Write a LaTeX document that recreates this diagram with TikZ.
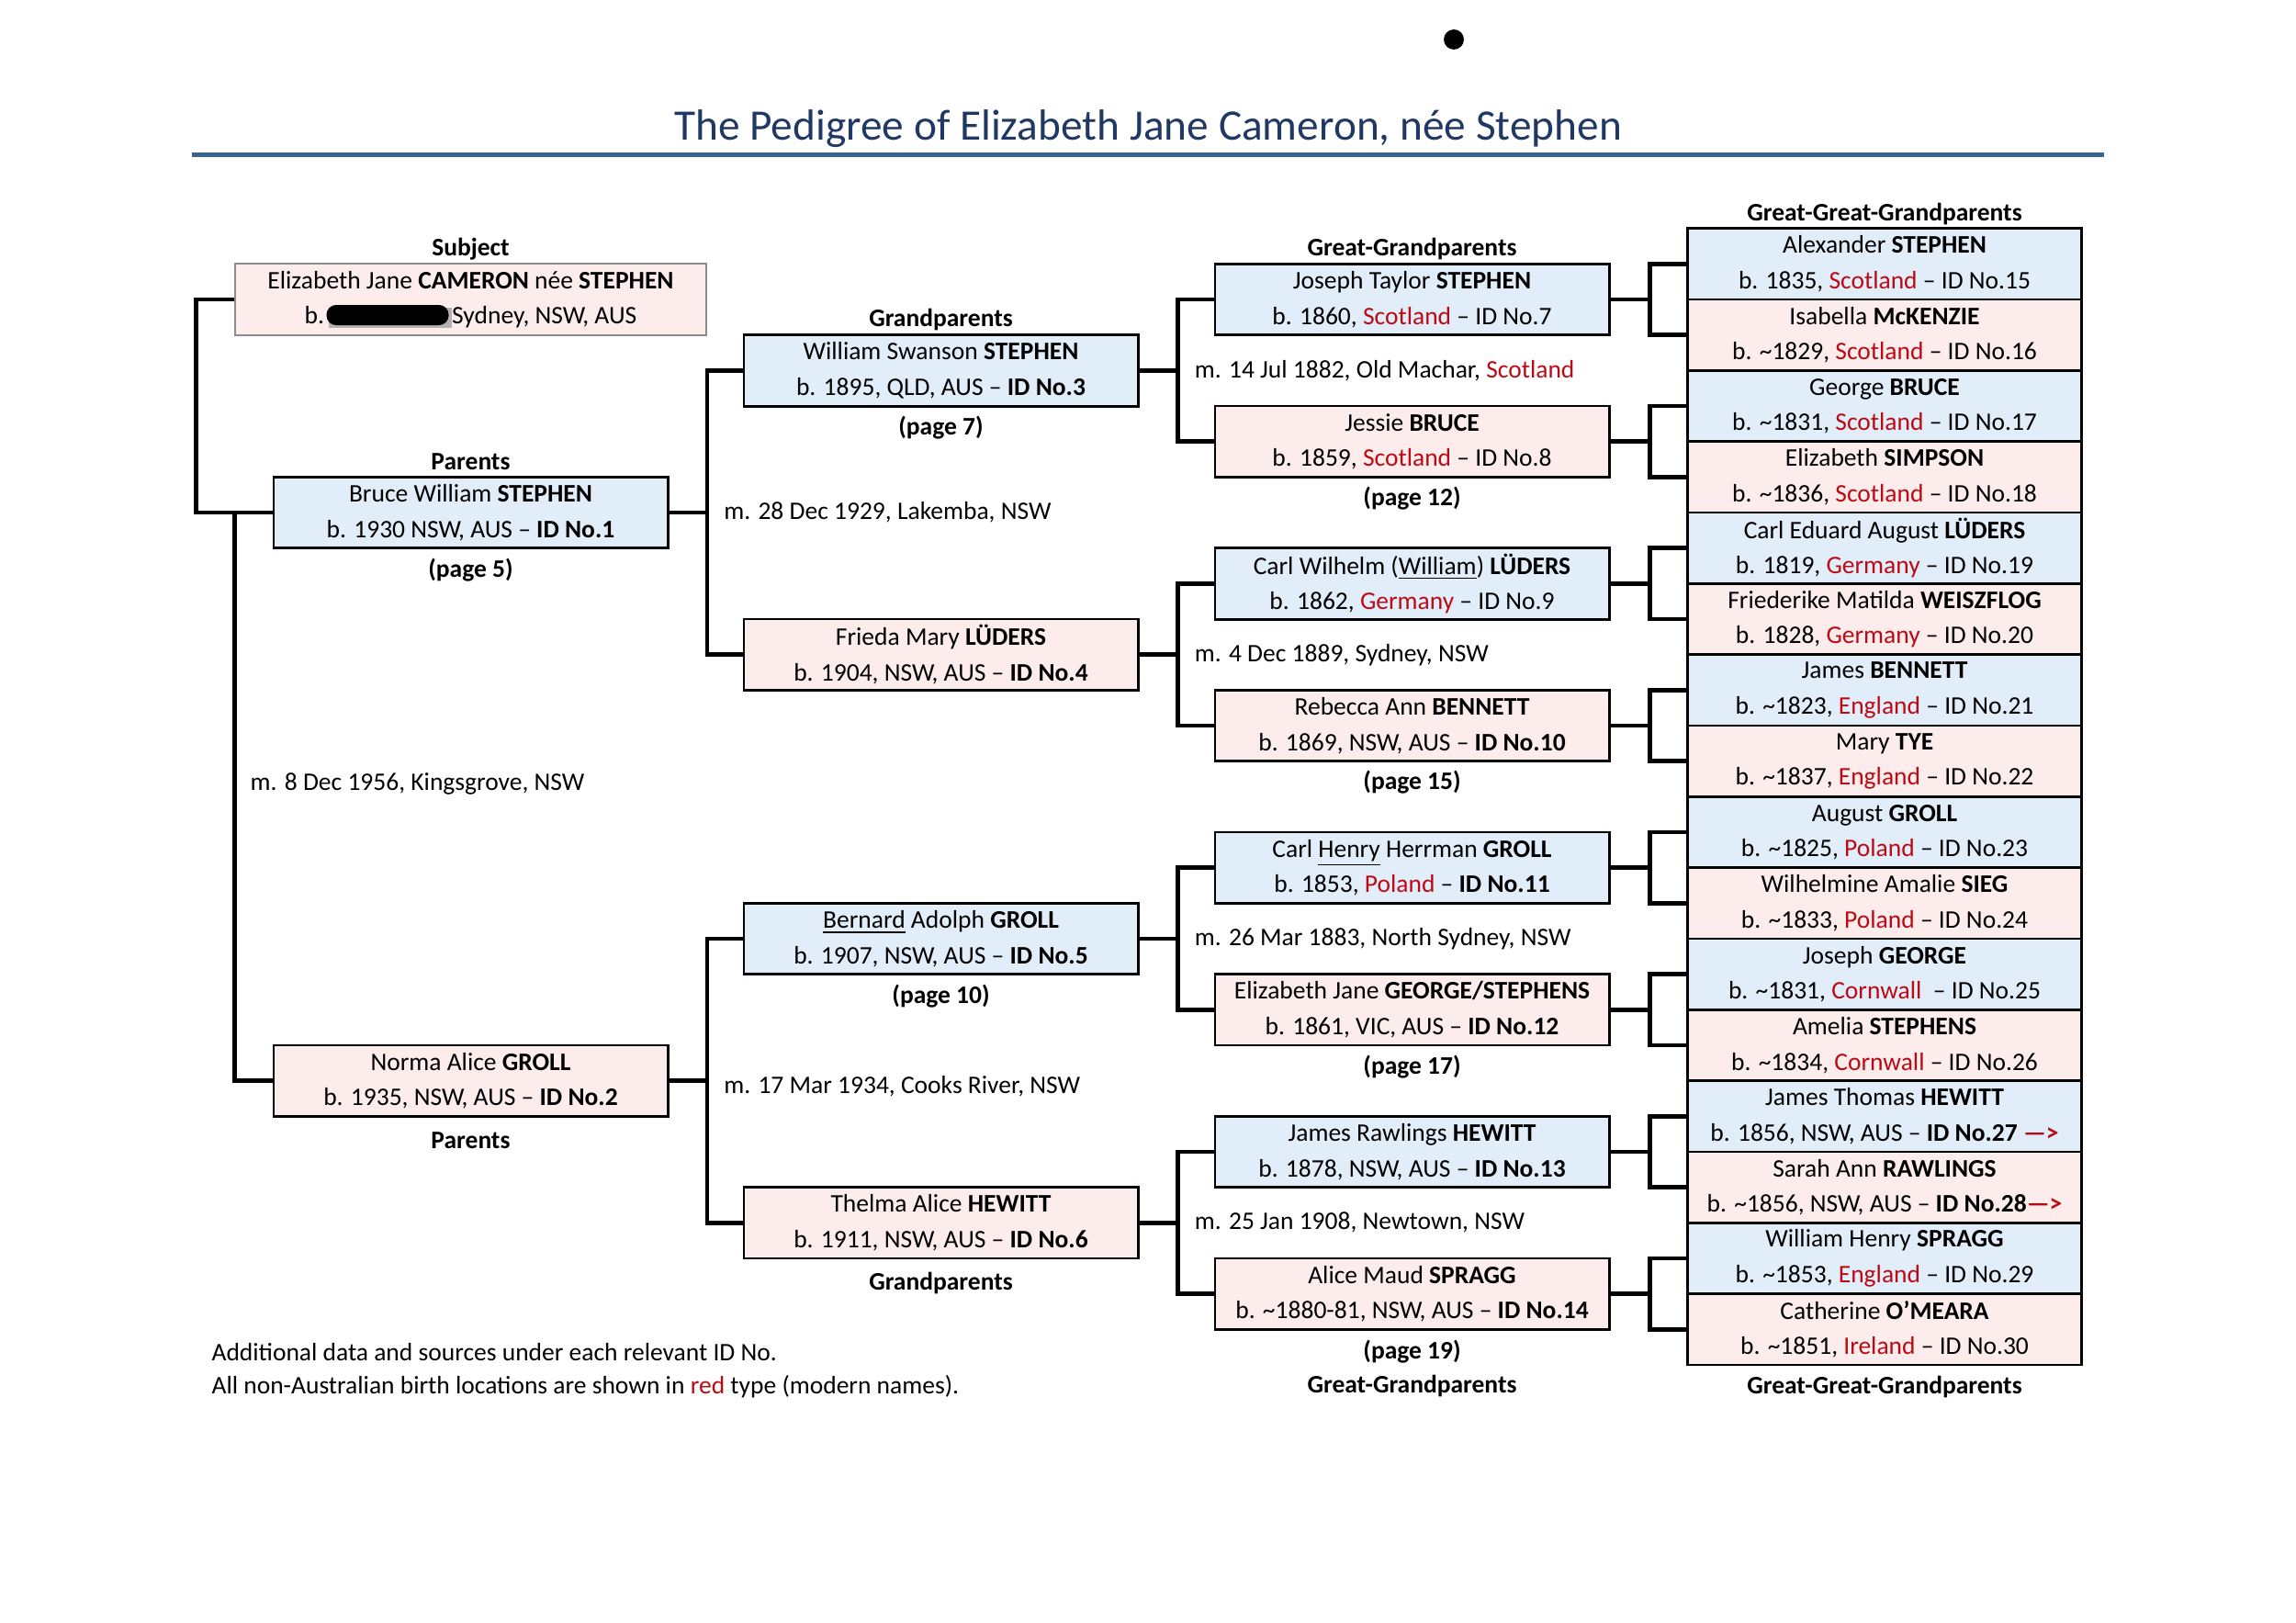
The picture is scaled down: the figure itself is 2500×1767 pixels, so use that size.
\documentclass[tikz,border=0pt]{standalone}
\usepackage{fontspec}
\setmainfont{Carlito}
\usetikzlibrary{positioning,calc}

\definecolor{maleFill}{HTML}{E1EDF9}
\definecolor{femaleFill}{HTML}{FCECEC}
\definecolor{placeRed}{HTML}{BC0A14}
\definecolor{titleNavy}{HTML}{1F3864}
\definecolor{ruleBlue}{HTML}{3A6391}
\definecolor{subjEdge}{HTML}{8C8C8C}

\newcommand{\abroad}[1]{\textcolor{placeRed}{#1}}
\newcommand{\onward}{\textcolor{placeRed}{\textbf{—>}}}

\tikzset{
  pedigree/.style={
    font=\fontsize{9.3}{13}\selectfont,
    line join=miter,
  },
  person/.style={
    draw=black, line width=1pt, align=center, inner sep=0pt,
    minimum width=50.97mm, minimum height=9.19mm,
  },
  maleBox/.style={person, fill=maleFill},
  femaleBox/.style={person, fill=femaleFill},
  subjBox/.style={person, fill=femaleFill, draw=subjEdge, line width=0.6pt,
    minimum width=60.94mm},
  link/.style={black, line width=1.6pt},
  genLabel/.style={font=\fontsize{9.3}{13}\selectfont\bfseries, inner sep=1pt,
    text height=6.6pt, text depth=2pt},
  marLabel/.style={inner sep=1pt, anchor=west},
  noteText/.style={inner sep=0pt, anchor=west},
  redact/.style={fill=black, rounded corners=1.25mm},
}

\begin{document}
\begin{tikzpicture}[pedigree, x=0.1188mm, y=-0.1188mm]

% page frame (A4 landscape, 1 unit = one pixel of the scan)
\useasboundingbox (0,0) rectangle (2500,1767);

% ============================================================
% Columns and rows: one row = one great-great-grandparent box.
% ============================================================
\def\cOne{512.5}
\def\cTwo{1024.5}
\def\cThree{1537.5}
\def\cFour{2052}
\def\yTop{248.7}
\def\rowH{77.33}

% stray dot and heading
\node[fill=black, circle, minimum size=2.6mm, inner sep=0pt] (dot) at (1583,43) {};
\node[font=\fontsize{16}{19}\selectfont, text=titleNavy, inner sep=0pt] (title)
  at (1250,140) {The Pedigree of Elizabeth Jane Cameron, née Stephen};
\draw[ruleBlue, line width=2pt] (209,168.5) -- (2291,168.5);

% ============================================================
% Subject and parents
% ============================================================
\node[subjBox] (subj) at (\cOne, \yTop+1*\rowH)
  {Elizabeth Jane \textbf{CAMERON} née \textbf{STEPHEN}\\b.\hspace{47pt}Sydney, NSW, AUS};
% redaction blot over the birth date
\fill[black!30] ($(subj.center)+(-155,9)$) rectangle ($(subj.center)+(-21,31)$);
\fill[redact] ($(subj.center)+(-157,6)$) rectangle ($(subj.center)+(-24,28)$);

\node[maleBox] (bruce) at (\cOne, \yTop+4*\rowH)
  {Bruce William \textbf{STEPHEN}\\b. 1930 NSW, AUS – \textbf{ID No.1}};
\node[femaleBox] (norma) at (\cOne, \yTop+12*\rowH)
  {Norma Alice \textbf{GROLL}\\b. 1935, NSW, AUS – \textbf{ID No.2}};

% ============================================================
% Grandparents
% ============================================================
\node[maleBox] (wil) at (\cTwo, \yTop+2*\rowH)
  {William Swanson \textbf{STEPHEN}\\b. 1895, QLD, AUS – \textbf{ID No.3}};
\node[femaleBox] (frieda) at (\cTwo, \yTop+6*\rowH)
  {Frieda Mary \textbf{LÜDERS}\\b. 1904, NSW, AUS – \textbf{ID No.4}};
\node[maleBox] (bern) at (\cTwo, \yTop+10*\rowH)
  {\underline{Bernard} Adolph \textbf{GROLL}\\b. 1907, NSW, AUS – \textbf{ID No.5}};
\node[femaleBox] (thelma) at (\cTwo, \yTop+14*\rowH)
  {Thelma Alice \textbf{HEWITT}\\b. 1911, NSW, AUS – \textbf{ID No.6}};

% ============================================================
% Great-grandparents
% ============================================================
\node[maleBox] (joseph) at (\cThree, \yTop+1*\rowH)
  {Joseph Taylor \textbf{STEPHEN}\\b. 1860, \abroad{Scotland} – ID No.7};
\node[femaleBox] (jessie) at (\cThree, \yTop+3*\rowH)
  {Jessie \textbf{BRUCE}\\b. 1859, \abroad{Scotland} – ID No.8};
\node[maleBox] (carlw) at (\cThree, \yTop+5*\rowH)
  {Carl Wilhelm (\underline{William}) \textbf{LÜDERS}\\b. 1862, \abroad{Germany} – ID No.9};
\node[femaleBox] (rebecca) at (\cThree, \yTop+7*\rowH)
  {Rebecca Ann \textbf{BENNETT}\\b. 1869, NSW, AUS – \textbf{ID No.10}};
\node[maleBox] (carlh) at (\cThree, \yTop+9*\rowH)
  {Carl \underline{Henry} Herrman \textbf{GROLL}\\b. 1853, \abroad{Poland} – \textbf{ID No.11}};
\node[femaleBox] (ejane) at (\cThree, \yTop+11*\rowH)
  {Elizabeth Jane \textbf{GEORGE/STEPHENS}\\b. 1861, VIC, AUS – \textbf{ID No.12}};
\node[maleBox] (jamesr) at (\cThree, \yTop+13*\rowH)
  {James Rawlings \textbf{HEWITT}\\b. 1878, NSW, AUS – \textbf{ID No.13}};
\node[femaleBox] (alice) at (\cThree, \yTop+15*\rowH)
  {Alice Maud \textbf{SPRAGG}\\b. \textasciitilde1880-81, NSW, AUS – \textbf{ID No.14}};

% ============================================================
% Great-great-grandparents, stacked edge to edge
% ============================================================
\node[maleBox] (alex) at (\cFour, \yTop+0.5*\rowH)
  {Alexander \textbf{STEPHEN}\\b. 1835, \abroad{Scotland} – ID No.15};
\node[femaleBox] (isab) at (\cFour, \yTop+1.5*\rowH)
  {Isabella \textbf{McKENZIE}\\b. \textasciitilde1829, \abroad{Scotland} – ID No.16};
\node[maleBox] (george) at (\cFour, \yTop+2.5*\rowH)
  {George \textbf{BRUCE}\\b. \textasciitilde1831, \abroad{Scotland} – ID No.17};
\node[femaleBox] (elizs) at (\cFour, \yTop+3.5*\rowH)
  {Elizabeth \textbf{SIMPSON}\\b. \textasciitilde1836, \abroad{Scotland} – ID No.18};
\node[maleBox] (carle) at (\cFour, \yTop+4.5*\rowH)
  {Carl Eduard August \textbf{LÜDERS}\\b. 1819, \abroad{Germany} – ID No.19};
\node[femaleBox] (fried) at (\cFour, \yTop+5.5*\rowH)
  {Friederike Matilda \textbf{WEISZFLOG}\\b. 1828, \abroad{Germany} – ID No.20};
\node[maleBox] (jamesb) at (\cFour, \yTop+6.5*\rowH)
  {James \textbf{BENNETT}\\b. \textasciitilde1823, \abroad{England} – ID No.21};
\node[femaleBox] (mary) at (\cFour, \yTop+7.5*\rowH)
  {Mary \textbf{TYE}\\b. \textasciitilde1837, \abroad{England} – ID No.22};
\node[maleBox] (august) at (\cFour, \yTop+8.5*\rowH)
  {August \textbf{GROLL}\\b. \textasciitilde1825, \abroad{Poland} – ID No.23};
\node[femaleBox] (wilh) at (\cFour, \yTop+9.5*\rowH)
  {Wilhelmine Amalie \textbf{SIEG}\\b. \textasciitilde1833, \abroad{Poland} – ID No.24};
\node[maleBox] (josg) at (\cFour, \yTop+10.5*\rowH)
  {Joseph \textbf{GEORGE}\\b. \textasciitilde1831, \abroad{Cornwall}\ \ – ID No.25};
\node[femaleBox] (amelia) at (\cFour, \yTop+11.5*\rowH)
  {Amelia \textbf{STEPHENS}\\b. \textasciitilde1834, \abroad{Cornwall} – ID No.26};
\node[maleBox] (jamest) at (\cFour, \yTop+12.5*\rowH)
  {James Thomas \textbf{HEWITT}\\b. 1856, NSW, AUS – \textbf{ID No.27} \onward};
\node[femaleBox] (sarah) at (\cFour, \yTop+13.5*\rowH)
  {Sarah Ann \textbf{RAWLINGS}\\b. \textasciitilde1856, NSW, AUS – \textbf{ID No.28}\onward};
\node[maleBox] (willh) at (\cFour, \yTop+14.5*\rowH)
  {William Henry \textbf{SPRAGG}\\b. \textasciitilde1853, \abroad{England} – ID No.29};
\node[femaleBox] (cath) at (\cFour, \yTop+15.5*\rowH)
  {Catherine \textbf{O’MEARA}\\b. \textasciitilde1851, \abroad{Ireland} – ID No.30};

% ============================================================
% Brackets: child -> junction -> father and mother
% ============================================================
\draw[link] (subj.west) -- ++(-42,0) |- (bruce.west);
\draw[link] (subj.west |- bruce.west) |- (norma.west);

\draw[link] (bruce.east) -- ++(41.5,0) coordinate (mBruce) |- (wil.west) (mBruce) |- (frieda.west);
\draw[link] (norma.east) -- ++(41.5,0) coordinate (mNorma) |- (bern.west) (mNorma) |- (thelma.west);

\draw[link] (wil.east) -- ++(42,0) coordinate (mWil) |- (joseph.west) (mWil) |- (jessie.west);
\draw[link] (frieda.east) -- ++(42,0) coordinate (mFrieda) |- (carlw.west) (mFrieda) |- (rebecca.west);
\draw[link] (bern.east) -- ++(42,0) coordinate (mBern) |- (carlh.west) (mBern) |- (ejane.west);
\draw[link] (thelma.east) -- ++(42,0) coordinate (mThelma) |- (jamesr.west) (mThelma) |- (alice.west);

\draw[link] (joseph.east) -- ++(43,0) coordinate (mJoseph) |- (alex.west) (mJoseph) |- (isab.west);
\draw[link] (jessie.east) -- ++(43,0) coordinate (mJessie) |- (george.west) (mJessie) |- (elizs.west);
\draw[link] (carlw.east) -- ++(43,0) coordinate (mCarlw) |- (carle.west) (mCarlw) |- (fried.west);
\draw[link] (rebecca.east) -- ++(43,0) coordinate (mRebecca) |- (jamesb.west) (mRebecca) |- (mary.west);
\draw[link] (carlh.east) -- ++(43,0) coordinate (mCarlh) |- (august.west) (mCarlh) |- (wilh.west);
\draw[link] (ejane.east) -- ++(43,0) coordinate (mEjane) |- (josg.west) (mEjane) |- (amelia.west);
\draw[link] (jamesr.east) -- ++(43,0) coordinate (mJamesr) |- (jamest.west) (mJamesr) |- (sarah.west);
\draw[link] (alice.east) -- ++(43,0) coordinate (mAlice) |- (willh.west) (mAlice) |- (cath.west);

% marriages, just right of each junction
\node[marLabel] (marSubj)
  at ($(subj.west |- bruce.west)!0.477!(subj.west |- norma.west) + (14,0)$)
  {m. 8 Dec 1956, Kingsgrove, NSW};
\node[marLabel, right=5pt of mBruce] (marBruce) {m. 28 Dec 1929, Lakemba, NSW};
\node[marLabel, right=5pt of mNorma, yshift=-2pt] (marNorma) {m. 17 Mar 1934, Cooks River, NSW};
\node[marLabel, right=5pt of mWil] (marWil) {m. 14 Jul 1882, Old Machar, \abroad{Scotland}};
\node[marLabel, right=5pt of mFrieda] (marFrieda) {m. 4 Dec 1889, Sydney, NSW};
\node[marLabel, right=5pt of mBern] (marBern) {m. 26 Mar 1883, North Sydney, NSW};
\node[marLabel, right=5pt of mThelma] (marThelma) {m. 25 Jan 1908, Newtown, NSW};

% ============================================================
% Generation headings and page references
% ============================================================
\node[genLabel, above=-0.6pt of subj] (hdSubj) {Subject};
\node[genLabel, above=-1pt of bruce] (hdPar) {Parents};
\node[genLabel, below=2.5pt of bruce] (pgBruce) {(page 5)};
\node[genLabel, below=3.5pt of norma] (ftPar) {Parents};
\node[genLabel, above=-0.6pt of wil] (hdGP) {Grandparents};
\node[genLabel, below=2.5pt of wil] (pgWil) {(page 7)};
\node[genLabel, below=2.5pt of bern] (pgBern) {(page 10)};
\node[genLabel, below=3.5pt of thelma] (ftGP) {Grandparents};
\node[genLabel, above=-0.6pt of joseph] (hdGG) {Great-Grandparents};
\node[genLabel, below=2.2pt of jessie] (pgJessie) {(page 12)};
\node[genLabel, below=2.2pt of rebecca] (pgRebecca) {(page 15)};
\node[genLabel, below=2.2pt of ejane] (pgEjane) {(page 17)};
\node[genLabel, below=2.5pt of alice] (pgAlice) {(page 19)};
\node[genLabel, below=1.5pt of pgAlice] (ftGG) {Great-Grandparents};
\node[genLabel, above=-1pt of alex] (hdGGP) {Great-Great-Grandparents};
\node[genLabel, below=2.5pt of cath] (ftGGP) {Great-Great-Grandparents};

% footnotes
\node[noteText] (noteData) at (230,1472)
  {Additional data and sources under each relevant ID No.};
\node[noteText] (noteRed) at (230,1510)
  {All non-Australian birth locations are shown in \abroad{red} type (modern names).};

\end{tikzpicture}
\end{document}
